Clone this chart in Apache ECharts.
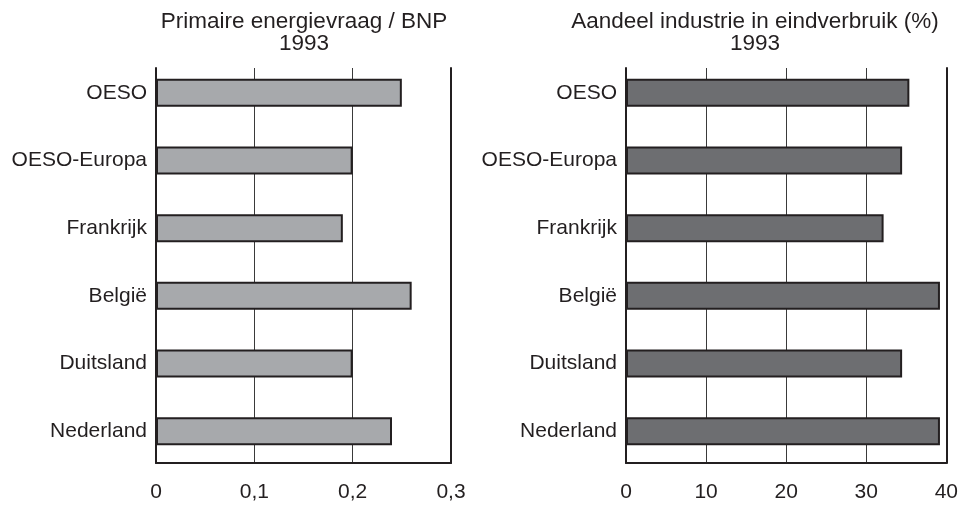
<!DOCTYPE html>
<html>
<head>
<meta charset="utf-8">
<script src="https://cdn.jsdelivr.net/npm/echarts@6/dist/echarts.min.js"></script>
<style>
	html, body { margin: 0; padding: 0; background: #fff; }
	#chart { width: 961px; height: 506px; }
</style>
</head>
<body>
<div id="chart"></div>
<script type="text/javascript">
// landen (van boven naar beneden)
var categories = ['OESO', 'OESO-Europa', 'Frankrijk', 'België', 'Duitsland', 'Nederland'];
// primaire energievraag / BNP, 1993
var energieBnp = [0.25, 0.20, 0.19, 0.26, 0.20, 0.24];
// aandeel industrie in eindverbruik (%), 1993
var aandeelIndustrie = [35.2, 34.3, 32.0, 39.0, 34.3, 39.0];
// ticks
var leftTicks = [0, 0.1, 0.2, 0.3];
var rightTicks = [0, 10, 20, 30, 40];

var ink = '#231f20';
var font = 'Liberation Sans';

// as met de landnamen (grid 0/1, waar de balken in staan)
function catAxis(idx) {
	return {
		type: 'category',
		gridIndex: idx,
		position: 'left',
		inverse: true,
		data: categories,
		axisTick: { show: false },
		axisLine: { show: false },
		axisLabel: { color: ink, fontSize: 21, fontFamily: font, margin: 9 }
	};
}

// verticale kaderlijnen (grid 2/3)
function frameAxis(idx, pos) {
	return {
		type: 'category',
		gridIndex: idx,
		position: pos,
		data: categories,
		axisTick: { show: false },
		axisLabel: { show: false },
		axisLine: { show: true, onZero: false, lineStyle: { color: ink, width: 2 } }
	};
}

function valAxis(idx, ticks, visible) {
	return {
		type: 'value',
		gridIndex: idx,
		show: visible,
		min: ticks[0],
		max: ticks[ticks.length - 1],
		interval: ticks[1] - ticks[0],
		axisTick: { show: false },
		axisLine: { show: visible, lineStyle: { color: ink, width: 2 } },
		splitLine: { show: visible, lineStyle: { color: '#3a3a3a', width: 1 } },
		axisLabel: {
			show: visible,
			color: ink, fontSize: 21, fontFamily: font, margin: 19,
			formatter: function (v) { return String(+v.toFixed(2)).replace('.', ','); }
		}
	};
}

var titleStyle = { color: ink, fontSize: 22.5, fontWeight: 'normal', fontFamily: font, lineHeight: 22 };

var myChart = echarts.init(document.getElementById('chart'));
var option = {
	animation: false,
	backgroundColor: '#fff',
	title: [
		{ text: 'Primaire energievraag / BNP\n1993', left: 299, top: 6, textAlign: 'center', textStyle: titleStyle },
		{ text: 'Aandeel industrie in eindverbruik (%)\n1993', left: 750, top: 6, textAlign: 'center', textStyle: titleStyle }
	],
	grid: [
		{ left: 156, width: 295, top: 59, height: 406 },
		{ left: 626, width: 322, top: 59, height: 406 },
		{ left: 156, width: 295, top: 68, height: 395 },
		{ left: 626, width: 322, top: 68, height: 395 }
	],
	xAxis: [
		valAxis(0, leftTicks, false),
		valAxis(1, rightTicks, false),
		valAxis(2, leftTicks, true),
		valAxis(3, rightTicks, true)
	],
	yAxis: [
		catAxis(0),
		catAxis(1),
		frameAxis(2, 'left'),
		frameAxis(2, 'right'),
		frameAxis(3, 'left'),
		frameAxis(3, 'right')
	],
	series: [
		{
			type: 'bar',
			xAxisIndex: 0, yAxisIndex: 0,
			data: energieBnp,
			barWidth: 28,
			z: 3,
			itemStyle: { color: '#a7a9ac', borderColor: ink, borderWidth: 2 }
		},
		{
			type: 'bar',
			xAxisIndex: 1, yAxisIndex: 1,
			data: aandeelIndustrie,
			barWidth: 28,
			z: 3,
			itemStyle: { color: '#6d6e71', borderColor: ink, borderWidth: 2 }
		}
	]
};
myChart.setOption(option);
</script>
</body>
</html>
